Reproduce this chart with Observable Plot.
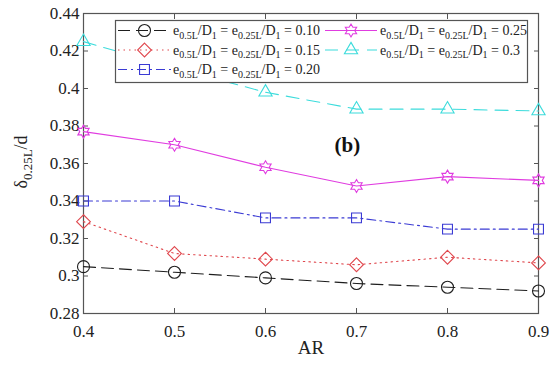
<!DOCTYPE html>
<html>
<head>
<meta charset="utf-8">
<script src="https://cdn.jsdelivr.net/npm/d3@7"></script>
<script src="https://cdn.jsdelivr.net/npm/@observablehq/plot@0.6"></script>
<style>
  html, body { margin: 0; padding: 0; background: white; }
  #chart { width: 552px; height: 367px; }
</style>
</head>
<body>
<div id="chart"></div>
<script>
// ---- data ----
const AR = [0.4, 0.5, 0.6, 0.7, 0.8, 0.9];
const ratios = ["0.10", "0.15", "0.20", "0.25", "0.3"];
const s010 = [0.305, 0.302, 0.299, 0.296, 0.294, 0.292];
const s015 = [0.329, 0.312, 0.309, 0.306, 0.310, 0.307];
const s020 = [0.340, 0.340, 0.331, 0.331, 0.325, 0.325];
const s025 = [0.377, 0.370, 0.358, 0.348, 0.353, 0.351];
const s030 = [0.425, 0.411, 0.398, 0.389, 0.389, 0.388];
const xTicks = [0.4, 0.5, 0.6, 0.7, 0.8, 0.9];
const yTicks = [0.28, 0.30, 0.32, 0.34, 0.36, 0.38, 0.40, 0.42, 0.44];
const panelLabel = "(b)";
const panelPos = [0.690, 0.3695];

// ---- styles ----
const colors = ["#1e1e1e", "#e0484e", "#3b3bd4", "#e03ce0", "#3cdcdc"];
const dashes = ["12,6", "1.5,4", "9,4,2,4", null, "13,8"];

const hexagram = {
  draw(ctx, size) {
    const r = Math.sqrt(size / Math.PI) * 1.05;
    const ri = r / Math.sqrt(3);
    for (let i = 0; i < 12; i++) {
      const a = -Math.PI / 2 + i * Math.PI / 6;
      const rr = i % 2 ? ri : r;
      const x = rr * Math.cos(a), y = rr * Math.sin(a);
      if (i === 0) ctx.moveTo(x, y); else ctx.lineTo(x, y);
    }
    ctx.closePath();
  }
};
const symbols = [d3.symbolCircle, d3.symbolDiamond2, d3.symbolSquare2, hexagram, d3.symbolTriangle2];
const radii = [6, 6.2, 6.3, 6.2, 6.3];

const seriesVals = [s010, s015, s020, s025, s030];
const rows = [];
seriesVals.forEach((vals, si) => vals.forEach((v, i) => rows.push({ar: AR[i], v, s: si})));

const fmt = d => String(+d.toFixed(2));

const marks = [];
seriesVals.forEach((vals, si) => {
  const data = rows.filter(r => r.s === si);
  marks.push(Plot.line(data, {x: "ar", y: "v", stroke: colors[si], strokeWidth: 1.1, strokeDasharray: dashes[si] || undefined}));
  marks.push(Plot.dot(data, {x: "ar", y: "v", stroke: colors[si], fill: "none", strokeWidth: 1.1, symbol: symbols[si], r: radii[si]}));
});

const plot = Plot.plot({
  width: 552, height: 367,
  marginLeft: 83, marginRight: 14, marginTop: 13, marginBottom: 54,
  style: {fontFamily: "'Liberation Serif', serif", fontSize: "17px", background: "white", color: "#222", overflow: "visible"},
  x: {domain: [0.4, 0.9], label: null},
  y: {domain: [0.28, 0.44], label: null},
  marks: [
    Plot.frame({stroke: "#555", strokeWidth: 1.2}),
    Plot.axisX(xTicks, {anchor: "bottom", tickSize: -5, tickPadding: 16, tickFormat: fmt, label: null, stroke: "#555", fontSize: 17}),
    Plot.axisX(xTicks, {anchor: "top", tickSize: -5, tickFormat: () => "", label: null, stroke: "#555"}),
    Plot.axisY(yTicks, {anchor: "left", tickSize: -5, tickPadding: 9, tickFormat: fmt, label: null, stroke: "#555", fontSize: 17}),
    Plot.axisY(yTicks, {anchor: "right", tickSize: -5, tickFormat: () => "", label: null, stroke: "#555"}),
    ...marks,
    Plot.text([panelLabel], {x: () => panelPos[0], y: () => panelPos[1], fontSize: 21, fontWeight: "bold", fill: "#111"}),
    Plot.text(["AR"], {frameAnchor: "bottom", dy: 40, fontSize: 19, fill: "#222"})
  ]
});

const svg = d3.select(plot);

// y-axis label with subscript
const yl = svg.append("text")
  .attr("transform", "translate(27,162) rotate(-90)")
  .attr("text-anchor", "middle")
  .attr("font-family", "'Liberation Serif', serif")
  .attr("font-size", 18)
  .attr("fill", "#222");
yl.append("tspan").text("δ");
yl.append("tspan").attr("font-size", 13).attr("dy", 5).text("0.25L");
yl.append("tspan").attr("dy", -5).text("/d");

// legend
const lg = svg.append("g").attr("font-family", "'Liberation Serif', serif").attr("fill", "#222").attr("text-anchor", "start");
lg.append("rect").attr("x", 115.5).attr("y", 20.5).attr("width", 412).attr("height", 62)
  .attr("fill", "white").attr("stroke", "#555").attr("stroke-width", 1.2);
const cols = [{x0: 118, x1: 171, tx: 173}, {x0: 325, x1: 377, tx: 380}];
const rowY = [30.5, 50, 69.5];
const places = [[0, 0], [0, 1], [0, 2], [1, 0], [1, 1]];
ratios.forEach((rt, si) => {
  const [c, r] = places[si];
  const col = cols[c], y = rowY[r];
  lg.append("line").attr("x1", col.x0).attr("x2", col.x1).attr("y1", y).attr("y2", y)
    .attr("stroke", colors[si]).attr("stroke-width", 1.1)
    .attr("stroke-dasharray", dashes[si] || null);
  const sz = Math.PI * radii[si] * radii[si];
  lg.append("path").attr("transform", `translate(${(col.x0 + col.x1) / 2},${y})`)
    .attr("d", d3.symbol(symbols[si], sz)())
    .attr("fill", "none").attr("stroke", colors[si]).attr("stroke-width", 1.1);
  const t = lg.append("text").attr("x", col.tx).attr("y", y + 4.5).attr("font-size", 14).attr("text-anchor", "start");
  t.append("tspan").text("e");
  t.append("tspan").attr("font-size", 10).attr("dy", 3.5).text("0.5L");
  t.append("tspan").attr("dy", -3.5).text("/D");
  t.append("tspan").attr("font-size", 10).attr("dy", 3.5).text("1");
  t.append("tspan").attr("dy", -3.5).text(" = e");
  t.append("tspan").attr("font-size", 10).attr("dy", 3.5).text("0.25L");
  t.append("tspan").attr("dy", -3.5).text("/D");
  t.append("tspan").attr("font-size", 10).attr("dy", 3.5).text("1");
  t.append("tspan").attr("dy", -3.5).text(" = " + rt);
});

document.getElementById("chart").appendChild(plot);
</script>
</body>
</html>
